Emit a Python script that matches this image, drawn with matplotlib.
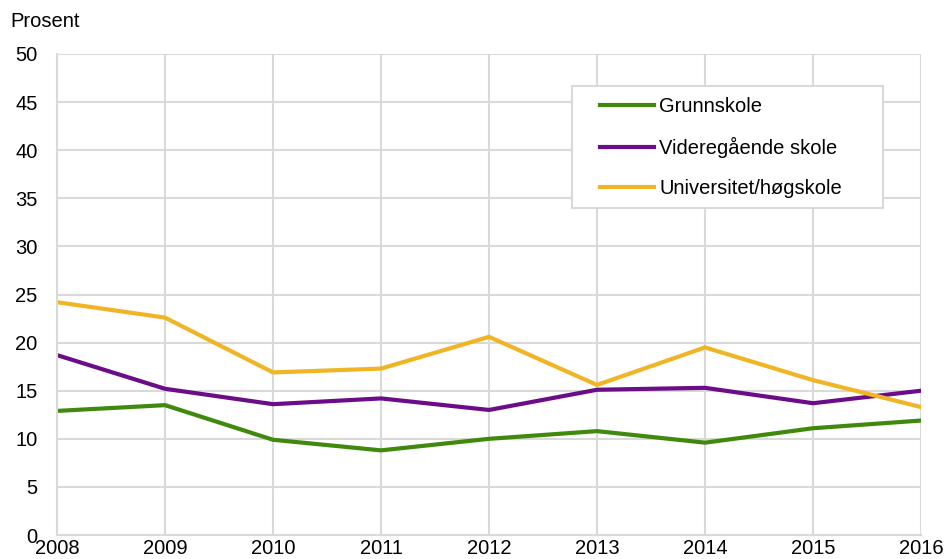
import numpy as np
import matplotlib.pyplot as plt
from matplotlib.patches import Rectangle

plt.rcParams['font.family'] = ['Liberation Sans', 'DejaVu Sans']

years = [2008, 2009, 2010, 2011, 2012, 2013, 2014, 2015, 2016]
grunnskole = [12.9, 13.5, 9.9, 8.8, 10.0, 10.8, 9.6, 11.1, 11.9]
videregaende = [18.7, 15.2, 13.6, 14.2, 13.0, 15.1, 15.3, 13.7, 15.0]
universitet = [24.2, 22.6, 16.9, 17.3, 20.6, 15.6, 19.5, 16.1, 13.3]

fs = 14.5

fig = plt.figure(figsize=(9.46, 5.59), dpi=100)
ax = fig.add_axes([0.0603, 0.0429, 0.9133, 0.8605])

ax.plot(years, grunnskole, color='#3f8a0c', lw=3, label='Grunnskole')
ax.plot(years, videregaende, color='#6b0c89', lw=3, label='Videregående skole')
ax.plot(years, universitet, color='#efb524', lw=3, label='Universitet/høgskole')

ax.set_xlim(2008, 2016)
ax.set_ylim(0, 50)
ax.set_xticks(years)
ax.set_yticks(np.arange(0, 51, 5))
ax.grid(True, color='#d9d9d9', lw=1.5)
ax.set_axisbelow(True)
for s in ax.spines.values():
    s.set_visible(False)
for side in ['left', 'bottom']:
    ax.spines[side].set_visible(True)
    ax.spines[side].set_color('#d9d9d9')
    ax.spines[side].set_linewidth(1.5)
ax.tick_params(length=0, labelsize=fs)
ax.tick_params(axis='x', pad=3)
ax.tick_params(axis='y', pad=14)

fig.text(0.011, 0.962, 'Prosent', fontsize=fs, va='center')

# legend box drawn separately, legend itself without frame
fig.patches.append(Rectangle((0.6047, 0.6279), 0.3288, 0.2182, transform=fig.transFigure,
                             facecolor='white', edgecolor='#d9d9d9', lw=1.5, zorder=3))
leg = fig.legend(loc='upper left', bbox_to_anchor=(0.634, 0.826), fontsize=fs,
                 frameon=False, handlelength=2.7, handletextpad=0.25,
                 labelspacing=1.03, borderpad=0, borderaxespad=0)
leg.set_zorder(4)

fig.savefig('out.png', dpi=100)
